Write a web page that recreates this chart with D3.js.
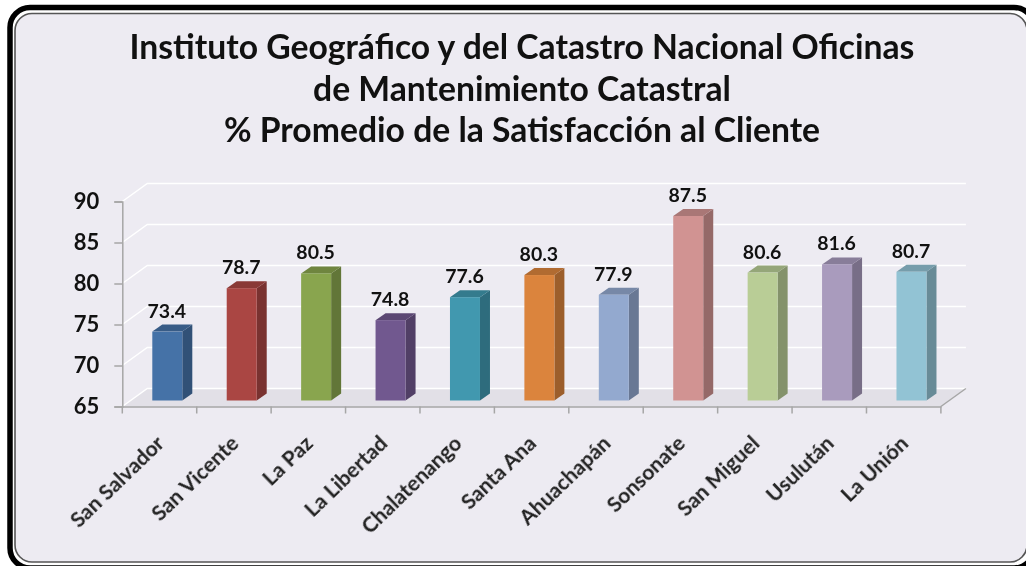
<!DOCTYPE html>
<html>
<head>
<meta charset="utf-8">
<title>% Promedio de la Satisfacción al Cliente</title>
<style>
  html, body { margin: 0; padding: 0; background: #fff; overflow: hidden; }
  svg { display: block; }
  text { filter: blur(0.35px); }
</style>
<script src="https://d3js.org/d3.v7.min.js"></script>
</head>
<body>
<script>
var categories = ["San Salvador", "San Vicente", "La Paz", "La Libertad", "Chalatenango", "Santa Ana", "Ahuachapán", "Sonsonate", "San Miguel", "Usulután", "La Unión"];
var values = [73.4, 78.7, 80.5, 74.8, 77.6, 80.3, 77.9, 87.5, 80.6, 81.6, 80.7];
var yTicks = [65, 70, 75, 80, 85, 90];
var titleLines = ["Instituto Geográfico y del Catastro Nacional Oficinas", "de Mantenimiento Catastral", "% Promedio de la Satisfacción al Cliente"];
var colors = ["#4572a7", "#aa4643", "#89a54e", "#71588f", "#4198af", "#db843d", "#93a9cf", "#d19392", "#b9cd96", "#a99bbd", "#92c3d4"];

var width = 1026, height = 566;
var font = "Lato, sans-serif";

var svg = d3.select("body").append("svg").attr("width", width).attr("height", height);

// frame: black line, thin white gap, grey line
svg.append("rect").attr("x", 10).attr("y", 7.5).attr("width", 1024).attr("height", 560.5)
   .attr("rx", 20).attr("fill", "#fff").attr("stroke", "#000").attr("stroke-width", 5.5);
svg.append("rect").attr("x", 15).attr("y", 13.5).attr("width", 1012).attr("height", 548.5)
   .attr("rx", 17).attr("fill", "#edebf2").attr("stroke", "#555").attr("stroke-width", 1.6);

svg.selectAll(".title").data(titleLines).enter().append("text")
   .attr("class", "title")
   .attr("x", 522)
   .attr("y", function(d, i) { return 59 + i * 41.5; })
   .attr("text-anchor", "middle")
   .attr("font-family", font).attr("font-weight", 700).attr("font-size", 33.7)
   .attr("fill", "#111")
   .text(function(d) { return d; });

// 3d offsets: floor depth and bar depth
var dx = 25, dy = -18;
var barDx = 10, barDy = -7;

var x = d3.scaleBand().domain(categories).range([122.3, 940.9]);
var y = d3.scaleLinear().domain([65, 90]).range([406.5, 201.5]);
var barBase = 400.5;
var h = function(v) { return y(65) - y(v); };

// floor
svg.append("path")
   .attr("d", d3.line()([[x.range()[0], y(65)], [x.range()[0] + dx, y(65) + dy], [x.range()[1] + dx, y(65) + dy], [x.range()[1], y(65)]]))
   .attr("fill", "#e2e0e7");

// gridlines, front wall edge then back wall
var grid = svg.selectAll(".grid").data(yTicks).enter().append("g").attr("class", "grid");
grid.append("path")
   .attr("d", function(d) {
     return d3.line()([[x.range()[0], y(d)], [x.range()[0] + dx, y(d) + dy], [x.range()[1] + dx, y(d) + dy]]);
   })
   .attr("fill", "none").attr("stroke", "#fff").attr("stroke-width", 1.5);

// right floor edge
svg.append("line")
   .attr("x1", x.range()[1]).attr("y1", y(65))
   .attr("x2", x.range()[1] + dx).attr("y2", y(65) + dy)
   .attr("stroke", "#a6a6a6").attr("stroke-width", 1.5);

// axes
var axisLeft = svg.append("g").attr("transform", "translate(" + x.range()[0] + ",0)")
   .call(d3.axisLeft(y).tickValues(yTicks).tickSize(8).tickPadding(15));
axisLeft.select(".domain").attr("stroke", "#a6a6a6").attr("stroke-width", 1.5);
axisLeft.selectAll("line").attr("stroke", "#a6a6a6").attr("stroke-width", 1.5);
axisLeft.selectAll("text").attr("font-family", font).attr("font-weight", 700).attr("font-size", 22).attr("fill", "#111");

var axisBottom = svg.append("g").attr("transform", "translate(0," + y(65) + ")")
   .call(d3.axisBottom(x).tickSize(0).tickFormat(""));
axisBottom.select(".domain").attr("stroke", "#a6a6a6").attr("stroke-width", 1.5);
axisBottom.selectAll(".edge").data(d3.range(categories.length + 1)).enter().append("line")
   .attr("class", "edge")
   .attr("x1", function(i) { return x.range()[0] + i * x.step(); })
   .attr("x2", function(i) { return x.range()[0] + i * x.step(); })
   .attr("y1", 0).attr("y2", 7)
   .attr("stroke", "#a6a6a6").attr("stroke-width", 1.5);

// bars
var barW = 30, barOff = 30;
var bar = svg.selectAll(".bar").data(values).enter().append("g").attr("class", "bar");

bar.append("path") // side
   .attr("d", function(d, i) {
     var l = x(categories[i]) + barOff + barW, t = barBase - h(d);
     return d3.line()([[l, t], [l + barDx, t + barDy], [l + barDx, barBase + barDy], [l, barBase]]);
   })
   .attr("fill", function(d, i) { return d3.color(colors[i]).darker(0.95); });

bar.append("path") // top
   .attr("d", function(d, i) {
     var l = x(categories[i]) + barOff, t = barBase - h(d);
     return d3.line()([[l, t], [l + barDx, t + barDy], [l + barW + barDx, t + barDy], [l + barW, t]]);
   })
   .attr("fill", function(d, i) { return d3.color(colors[i]).darker(0.6); });

bar.append("rect")
   .attr("x", function(d, i) { return x(categories[i]) + barOff; })
   .attr("y", function(d) { return barBase - h(d); })
   .attr("width", barW)
   .attr("height", function(d) { return h(d); })
   .attr("fill", function(d, i) { return colors[i]; });

bar.append("text")
   .attr("x", function(d, i) { return x(categories[i]) + barOff + 14.5; })
   .attr("y", function(d) { return barBase - h(d) - 14; })
   .attr("text-anchor", "middle")
   .attr("font-family", font).attr("font-weight", 700).attr("font-size", 19.5).attr("fill", "#111")
   .text(function(d) { return d.toFixed(1); });

// rotated category labels
svg.selectAll(".cat").data(categories).enter().append("text")
   .attr("class", "cat")
   .attr("transform", function(d) {
     return "translate(" + (x(d) + x.step() / 2 + 6) + ",445) rotate(-44)";
   })
   .attr("text-anchor", "end")
   .attr("font-family", font).attr("font-weight", 700).attr("font-size", 21.2).attr("fill", "#222")
   .text(function(d) { return d; });
</script>
</body>
</html>
